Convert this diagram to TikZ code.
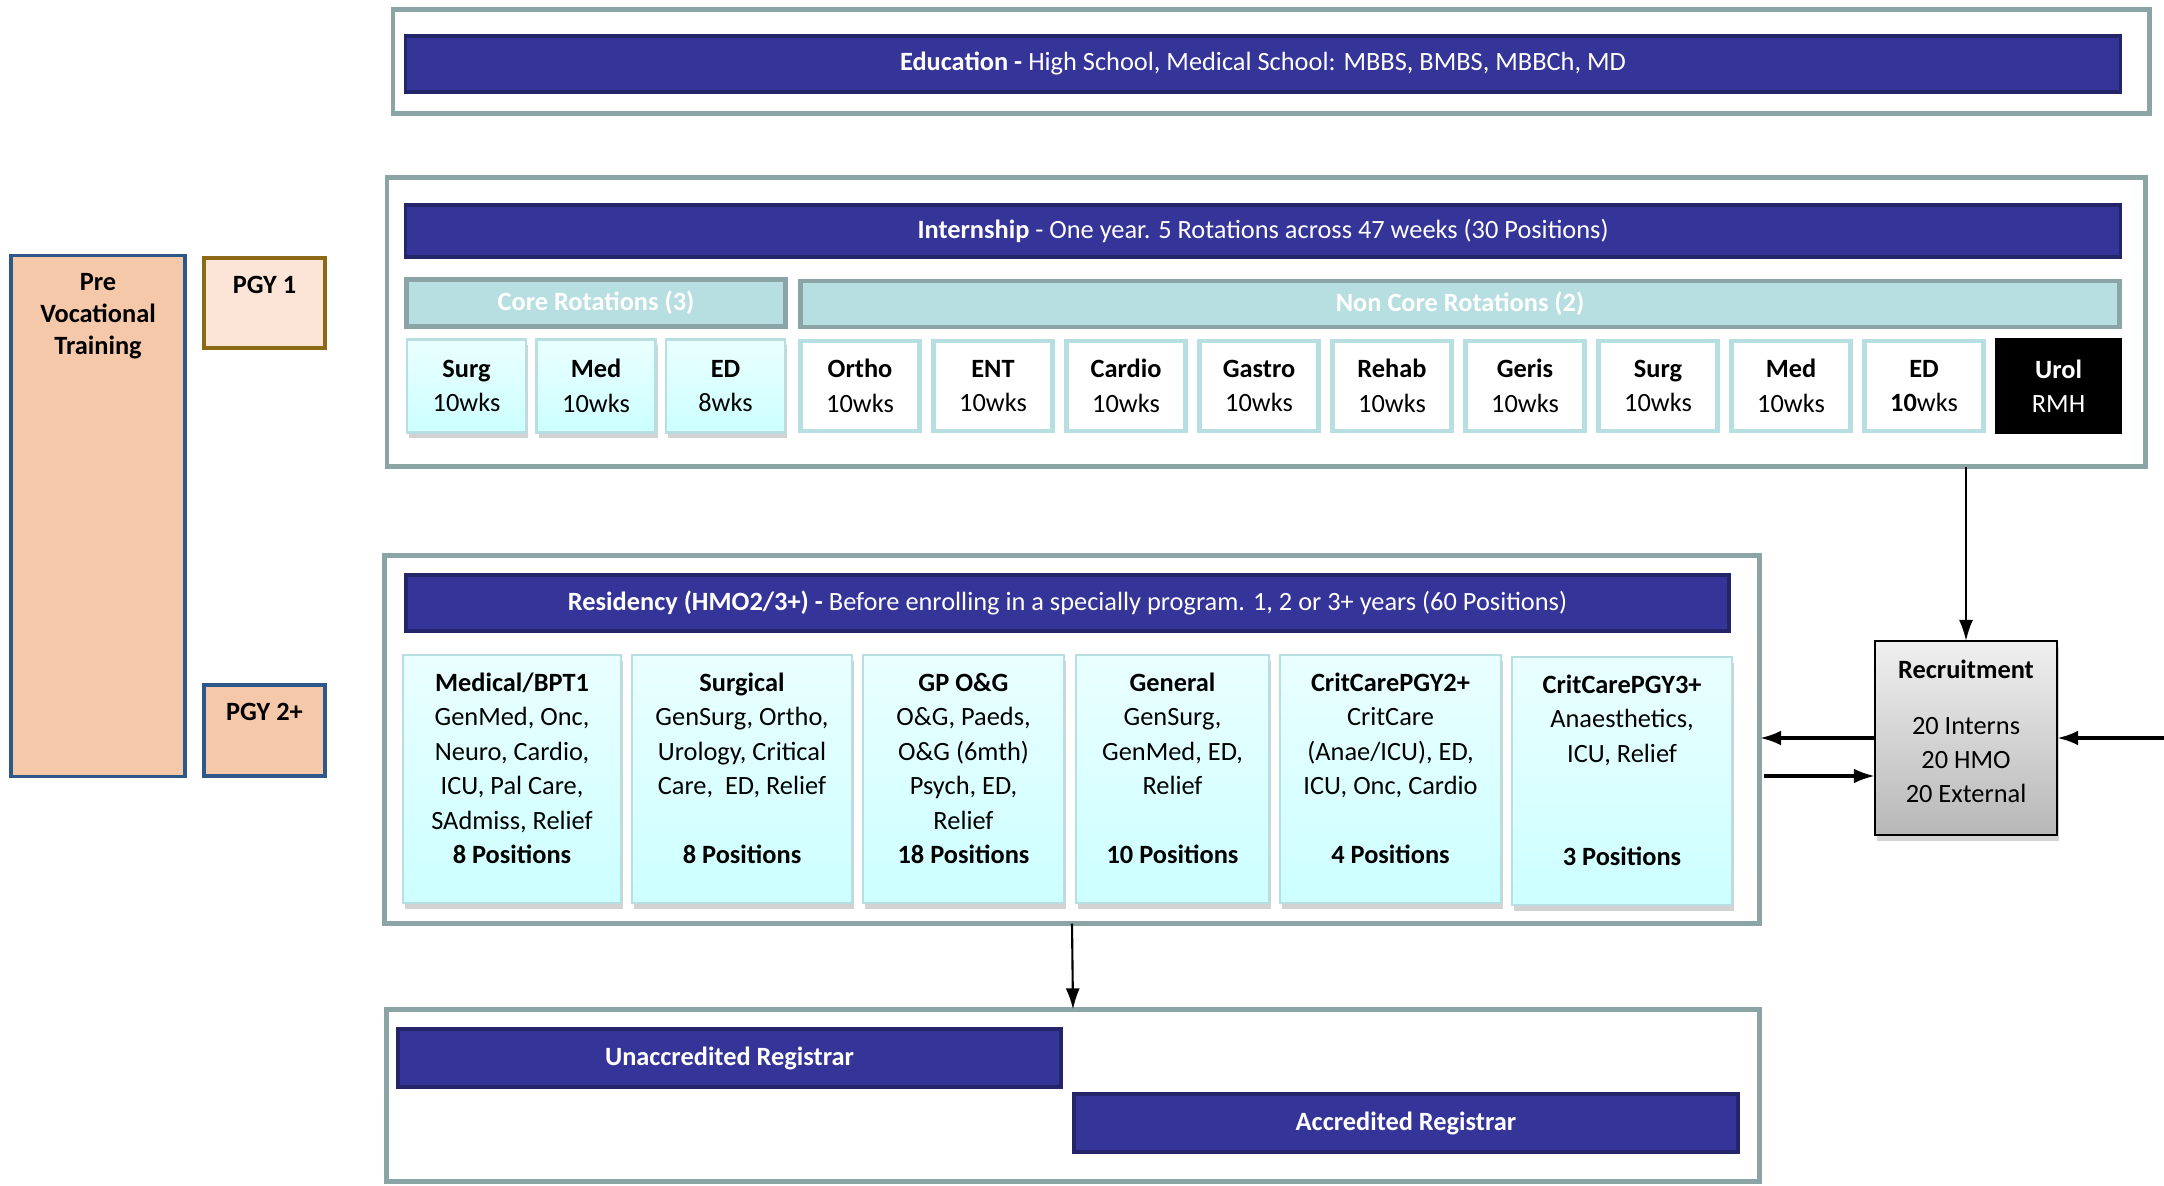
\documentclass[tikz,border=0pt]{standalone}
\usepackage{fontspec}
\setmainfont{Carlito}
\usetikzlibrary{arrows.meta,shadows}

\definecolor{barblue}{RGB}{53,52,153}
\definecolor{bardark}{RGB}{36,36,104}
\definecolor{framegray}{RGB}{139,165,166}
\definecolor{tealpale}{RGB}{183,222,224}
\definecolor{cyantop}{RGB}{234,255,255}
\definecolor{cyanbot}{RGB}{204,255,255}
\definecolor{peach}{RGB}{246,200,170}
\definecolor{peachlight}{RGB}{252,228,214}
\definecolor{pgyblue}{RGB}{46,88,138}
\definecolor{pgygold}{RGB}{140,105,20}

\begin{document}
\begin{tikzpicture}[x=0.01cm, y=-0.01cm,
  every node/.style={font=\fontsize{7.5}{9.8}\selectfont, inner sep=0pt, outer sep=0pt},
  frame/.style={draw=framegray, line width=1.4pt, fill=white},
  bar/.style={draw=bardark, line width=1.1pt, fill=barblue, text=white},
  header/.style={draw=framegray, line width=1.4pt, fill=tealpale, text=white,
    font=\fontsize{7.5}{9.8}\selectfont\bfseries},
  corebox/.style={draw=tealpale, line width=0.6pt, top color=cyantop, bottom color=cyanbot,
    align=center, drop shadow={shadow xshift=0.6pt, shadow yshift=-1.6pt, opacity=0.35}},
  rotbox/.style={draw=tealpale, line width=1.4pt, fill=white, align=center,
    minimum width=1.19cm, minimum height=0.90cm},
  resbox/.style={corebox, minimum height=2.48cm},
  boxtxt/.style={anchor=north, align=center},
  recbox/.style={draw=black, line width=0.8pt, top color=black!6, bottom color=black!28,
    minimum width=1.82cm, minimum height=1.94cm,
    drop shadow={shadow xshift=0.6pt, shadow yshift=-1.6pt, opacity=0.35}},
  conn/.style={-{Latex[length=6pt,width=4pt]}, line width=0.6pt},
  thickconn/.style={-{Latex[length=6pt,width=4.2pt]}, line width=1pt}]
\useasboundingbox (0,0) rectangle (2164,1186);

% Pre vocational column
\node[draw=pgyblue, line width=0.9pt, fill=peach, minimum width=1.74cm, minimum height=5.20cm] (prevoc) at (98,516) {};
\node[boxtxt, font=\fontsize{7.5}{9}\selectfont\bfseries] (prevoctxt) at ([yshift=-0.18cm]prevoc.north) {Pre\\Vocational\\Training};
\node[draw=pgygold, line width=0.9pt, fill=peachlight, minimum width=1.21cm, minimum height=0.90cm] (pgyone) at (264.5,303) {};
\node[boxtxt, font=\fontsize{7.5}{9.8}\selectfont\bfseries] (pgyonetxt) at ([yshift=-0.18cm]pgyone.north) {PGY 1};
\node[draw=pgyblue, line width=0.9pt, fill=peach, minimum width=1.21cm, minimum height=0.91cm] (pgytwo) at (264.5,730.5) {};
\node[boxtxt, font=\fontsize{7.5}{9.8}\selectfont\bfseries] (pgytwotxt) at ([yshift=-0.18cm]pgytwo.north) {PGY 2+};

% Education
\node[frame, minimum width=17.55cm, minimum height=1.04cm] (edu) at (1271,61.5) {};
\node[bar, minimum width=17.14cm, minimum height=0.56cm] (edubar) at (1263,64)
  {\textbf{Education -} High School, Medical School: MBBS, BMBS, MBBCh, MD};

% Internship
\node[frame, minimum width=17.57cm, minimum height=2.89cm] (int) at (1266,322) {};
\node[bar, minimum width=17.14cm, minimum height=0.52cm] (intbar) at (1263,231)
  {\textbf{Internship} - One year. 5 Rotations across 47 weeks (30 Positions)};
\node[header, minimum width=3.79cm, minimum height=0.47cm] (core) at (596,303) {Core Rotations (3)};
\node[header, minimum width=13.19cm, minimum height=0.46cm] (noncore) at (1460,304) {Non Core Rotations (2)};

% Core rotations
\node[corebox, minimum width=1.19cm, minimum height=0.93cm] (csurg) at (466.5,386) {\textbf{Surg}\\10wks};
\node[corebox, minimum width=1.19cm, minimum height=0.93cm] (cmed) at (596,386) {\textbf{Med}\\10wks};
\node[corebox, minimum width=1.19cm, minimum height=0.93cm] (ced) at (725.5,386) {\textbf{ED}\\8wks};

% Non core rotations
\node[rotbox] (ortho) at (860,386) {\textbf{Ortho}\\10wks};
\node[rotbox] (ent) at (993,386) {\textbf{ENT}\\10wks};
\node[rotbox] (cardio) at (1126,386) {\textbf{Cardio}\\10wks};
\node[rotbox] (gastro) at (1259,386) {\textbf{Gastro}\\10wks};
\node[rotbox] (rehab) at (1392,386) {\textbf{Rehab}\\10wks};
\node[rotbox] (geris) at (1525,386) {\textbf{Geris}\\10wks};
\node[rotbox] (nsurg) at (1658,386) {\textbf{Surg}\\10wks};
\node[rotbox] (nmed) at (1791,386) {\textbf{Med}\\10wks};
\node[rotbox] (ned) at (1924,386) {\textbf{ED}\\\textbf{10}wks};
\node[fill=black, text=white, align=center, minimum width=1.27cm, minimum height=0.95cm] (urol) at (2058.5,386) {\textbf{Urol}\\RMH};

% Residency
\node[frame, minimum width=13.75cm, minimum height=3.68cm] (res) at (1072,739.5) {};
\node[bar, minimum width=13.23cm, minimum height=0.56cm] (resbar) at (1067.5,603)
  {\textbf{Residency (HMO2/3+) -} Before enrolling in a specially program. 1, 2 or 3+ years (60 Positions)};

\node[resbox, minimum width=2.18cm] (medical) at (512,779) {};
\node[boxtxt] (medicaltxt) at ([yshift=-0.18cm]medical.north)
  {\textbf{Medical/BPT1}\\GenMed, Onc,\\Neuro, Cardio,\\ICU, Pal Care,\\SAdmiss, Relief\\\textbf{8 Positions}};
\node[resbox, minimum width=2.20cm] (surgical) at (742,779) {};
\node[boxtxt] (surgicaltxt) at ([yshift=-0.18cm]surgical.north)
  {\textbf{Surgical}\\GenSurg, Ortho,\\Urology, Critical\\Care,\ \ ED, Relief\\[9.8pt]\textbf{8 Positions}};
\node[resbox, minimum width=2.01cm] (gpog) at (963.5,779) {};
\node[boxtxt] (gpogtxt) at ([yshift=-0.18cm]gpog.north)
  {\textbf{GP O\&G}\\O\&G, Paeds,\\O\&G (6mth)\\Psych, ED,\\Relief\\\textbf{18 Positions}};
\node[resbox, minimum width=1.93cm] (general) at (1172.5,779) {};
\node[boxtxt] (generaltxt) at ([yshift=-0.18cm]general.north)
  {\textbf{General}\\GenSurg,\\GenMed, ED,\\Relief\\[9.8pt]\textbf{10 Positions}};
\node[resbox, minimum width=2.21cm] (crittwo) at (1390.5,779) {};
\node[boxtxt] (crittwotxt) at ([yshift=-0.18cm]crittwo.north)
  {\textbf{CritCarePGY2+}\\CritCare\\(Anae/ICU), ED,\\ICU, Onc, Cardio\\[9.8pt]\textbf{4 Positions}};
\node[resbox, minimum width=2.20cm] (critthree) at (1622,781) {};
\node[boxtxt] (critthreetxt) at ([yshift=-0.18cm]critthree.north)
  {\textbf{CritCarePGY3+}\\Anaesthetics,\\ICU, Relief\\[19.6pt]\textbf{3 Positions}};

% Recruitment
\node[recbox] (rec) at (1966,738) {};
\node[boxtxt] (rectxt) at ([yshift=-0.19cm]rec.north)
  {\textbf{Recruitment}\\[6pt]20 Interns\\20 HMO\\20 External};

% Registrar
\node[frame, minimum width=13.73cm, minimum height=1.72cm] (reg) at (1073,1095.5) {};
\node[bar, font=\fontsize{7.5}{9.8}\selectfont\bfseries, minimum width=6.63cm, minimum height=0.58cm] (unacc) at (729.5,1058) {Unaccredited Registrar};
\node[bar, font=\fontsize{7.5}{9.8}\selectfont\bfseries, minimum width=6.64cm, minimum height=0.58cm] (acc) at (1406,1123) {Accredited Registrar};

% Draw arrows
\coordinate (resout) at (1764,776);
\coordinate (extin) at (2164,738);
\draw[conn] (rec.north |- int.south) -- (rec.north);
\draw[thickconn] (rec.west) -- (rec.west -| res.east);
\draw[thickconn] (resout) -- (resout -| rec.west);
\draw[thickconn] (extin) -- (rec.east);
\draw[conn] (res.south) -- (reg.north);
\end{tikzpicture}
\end{document}
